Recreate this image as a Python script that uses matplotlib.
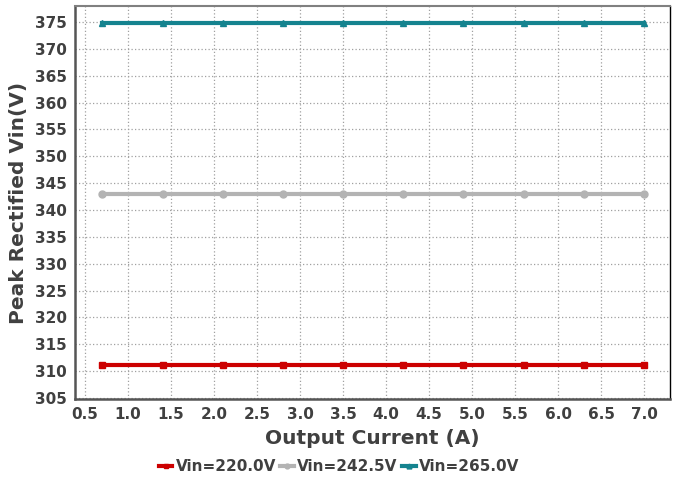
import matplotlib
matplotlib.use('Agg')
import matplotlib.pyplot as plt

current = [0.7, 1.4, 2.1, 2.8, 3.5, 4.2, 4.9, 5.6, 6.3, 7.0]
vin_220 = [311.2] * 10
vin_242 = [343.0] * 10
vin_265 = [374.8] * 10

series = [
    ('Vin=220.0V', vin_220, '#cc0000', 's'),
    ('Vin=242.5V', vin_242, '#b3b3b3', 'o'),
    ('Vin=265.0V', vin_265, '#15838f', '^'),
]

fig = plt.figure(figsize=(6.78, 4.82), dpi=100)
ax = fig.add_axes([0.111, 0.172, 0.877, 0.816])

for label, vals, col, mk in series:
    ax.plot(current, vals, color=col, lw=3, marker=mk, markersize=5, label=label)

ax.set_xlim(0.385, 7.3)
ax.set_ylim(304.8, 378)
ax.set_xticks([0.5 + 0.5 * i for i in range(14)])
ax.set_yticks(range(305, 380, 5))
ax.grid(True, color='#a0a0a0', ls=(0, (1, 1.8)), lw=0.9)
ax.set_axisbelow(True)

txt = '#404040'
ax.tick_params(length=0, labelsize=11, labelcolor=txt, pad=6)
for lab in ax.get_xticklabels() + ax.get_yticklabels():
    lab.set_fontweight('bold')
ax.set_xlabel('Output Current (A)', fontsize=14.5, fontweight='bold', color=txt, labelpad=5)
ax.set_ylabel('Peak Rectified Vin(V)', fontsize=14.5, fontweight='bold', color=txt, labelpad=5)

ax.spines['left'].set_color('#555555')
ax.spines['left'].set_linewidth(1.8)
ax.spines['bottom'].set_color('#555555')
ax.spines['bottom'].set_linewidth(1.8)
ax.spines['top'].set_color('#808080')
ax.spines['top'].set_linewidth(1.5)
ax.spines['right'].set_color('#000000')
ax.spines['right'].set_linewidth(1.0)

leg = fig.legend(loc='lower center', bbox_to_anchor=(0.5, -0.012), ncol=3, frameon=False,
                 handlelength=0.9, handletextpad=0.2, columnspacing=0.3,
                 prop={'weight': 'bold', 'size': 11}, markerscale=0.7)
for t in leg.get_texts():
    t.set_color(txt)

fig.savefig('out.png', dpi=100)
